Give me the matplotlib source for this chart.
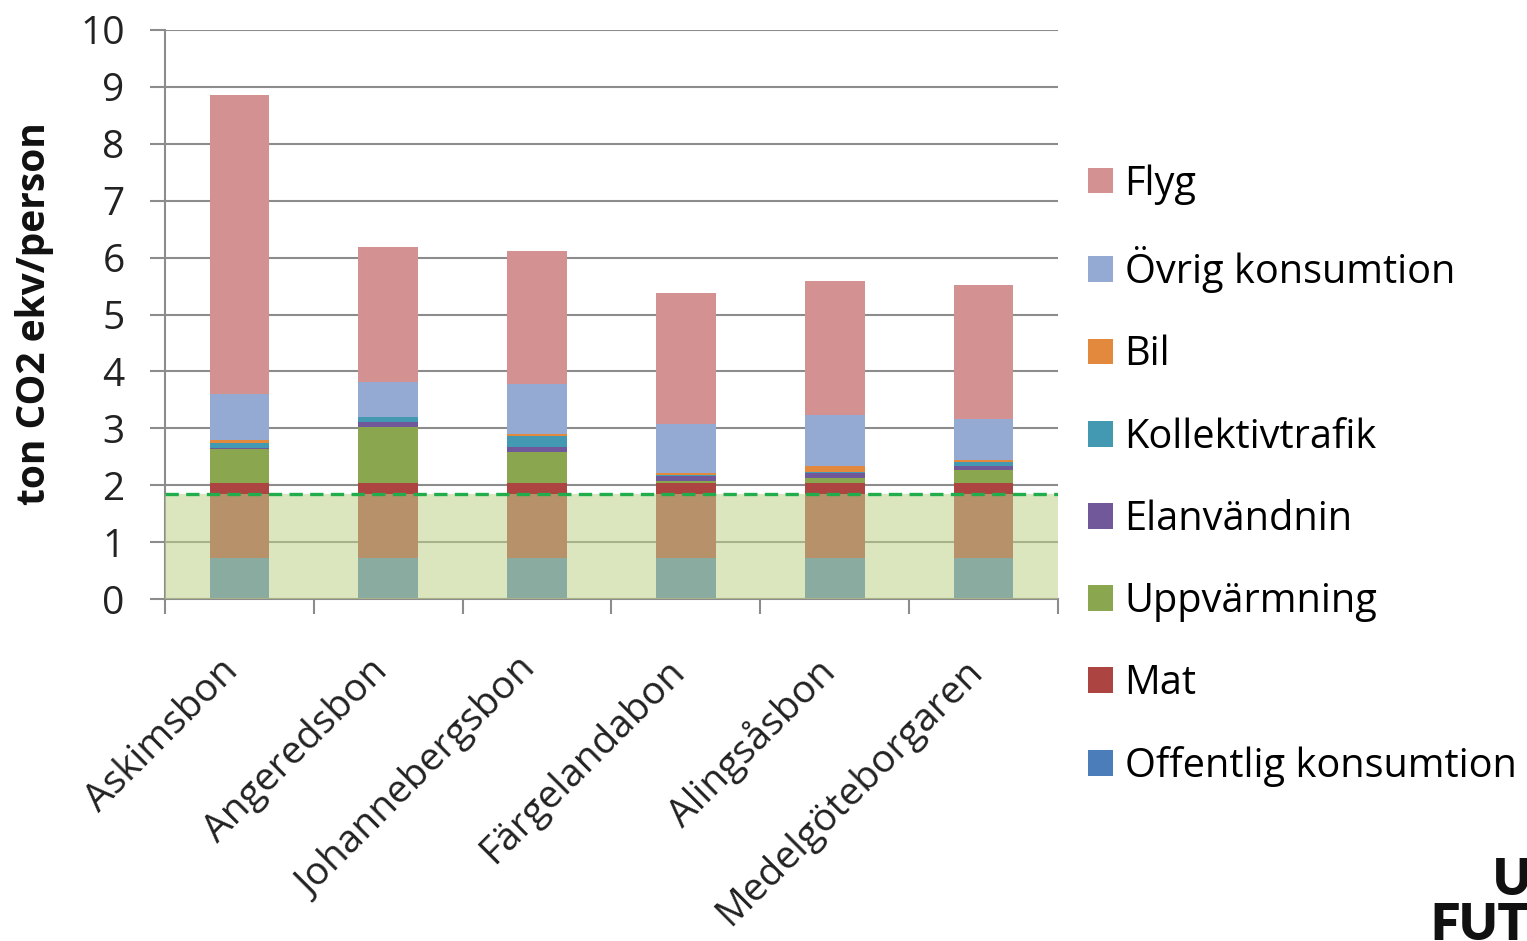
import matplotlib
matplotlib.use("Agg")
import matplotlib.pyplot as plt
import matplotlib.transforms as mtransforms
import numpy as np
from matplotlib.patches import Patch

categories = ['Askimsbon', 'Angeredsbon', 'Johannebergsbon', 'Färgelandabon',
              'Alingsåsbon', 'Medelgöteborgaren']
series_names = ['Offentlig konsumtion', 'Mat', 'Uppvärmning', 'Elanvändnin',
                'Kollektivtrafik', 'Bil', 'Övrig konsumtion', 'Flyg']
offentlig = [0.72, 0.72, 0.72, 0.72, 0.72, 0.72]
mat = [1.32, 1.32, 1.32, 1.32, 1.32, 1.32]
uppvarmning = [0.59, 0.98, 0.55, 0.04, 0.08, 0.23]
elanvandning = [0.03, 0.09, 0.08, 0.08, 0.09, 0.06]
kollektivtrafik = [0.08, 0.08, 0.19, 0.02, 0.03, 0.07]
bil = [0.05, 0.01, 0.04, 0.03, 0.10, 0.04]
ovrig = [0.81, 0.62, 0.87, 0.86, 0.90, 0.73]
flyg = [5.25, 2.36, 2.35, 2.31, 2.35, 2.35]
target_level = 1.84
yticks = list(range(0, 11))

colors = ['#4A7DBA', '#AC4442', '#8AA64F', '#71589A', '#4399B2', '#E2893E',
          '#94AAD3', '#D49192']

plt.rcParams['font.family'] = ['Open Sans', 'DejaVu Sans']

W, H = 1527, 941
fig = plt.figure(figsize=(W / 100, H / 100), dpi=100)
ax = fig.add_axes([165 / W, 1 - 599 / H, (1058 - 165) / W, (599 - 30) / H])

series = [offentlig, mat, uppvarmning, elanvandning, kollektivtrafik, bil, ovrig, flyg]
x = np.arange(len(categories))
bottom = np.zeros(len(categories))
for name, vals, c in zip(series_names, series, colors):
    ax.bar(x, vals, width=0.40, bottom=bottom, color=c, zorder=2,
           edgecolor='none', label=name)
    bottom += np.array(vals)

ax.axhspan(0, target_level, color=(191 / 255, 210 / 255, 139 / 255), alpha=0.55,
           zorder=3, lw=0)
ax.axhline(target_level, color='#22AD4C', ls=(0, (4, 2.2)), lw=2.4, zorder=4)

ax.set_xlim(-0.5, len(categories) - 0.5)
ax.set_ylim(0, 10)
ax.set_yticks(yticks)
ax.set_yticklabels([str(t) for t in yticks], fontsize=28, color='#222222')
ax.yaxis.grid(True, color='#8c8c8c', lw=1.5, zorder=0)
ax.set_axisbelow(True)

ax.set_xticks(x)
ax.set_xticklabels(categories, rotation=45, ha='right', rotation_mode='anchor',
                   fontsize=28, color='#222222')
ax.set_xticks(np.arange(-0.5, len(categories)), minor=True)
ax.tick_params(axis='x', which='major', length=0, pad=48)
ax.tick_params(axis='x', which='minor', length=11, width=1.5, color='#8c8c8c')
ax.tick_params(axis='y', which='major', length=11, width=1.5, color='#8c8c8c', pad=18)

offset = mtransforms.ScaledTranslation(-20 / 100, 14 / 100, fig.dpi_scale_trans)
for lab in ax.get_xticklabels():
    lab.set_transform(lab.get_transform() + offset)

for s in ['top', 'right']:
    ax.spines[s].set_visible(False)
for s in ['left', 'bottom']:
    ax.spines[s].set_color('#8c8c8c')
    ax.spines[s].set_linewidth(1.5)

fig.text(35 / W, 1 - 314 / H, 'ton CO2 ekv/person', rotation=90, ha='center',
         va='center', fontsize=28, fontweight='bold', color='#111111')

handles = [Patch(facecolor=c, edgecolor='none') for c in colors][::-1]
labels = series_names[::-1]
fig.legend(handles, labels, loc='center left',
           bbox_to_anchor=(1088 / W, 1 - 475.5 / H), frameon=False, fontsize=28.6,
           handlelength=0.62, handleheight=0.62, handletextpad=0.3,
           labelspacing=1.05, borderpad=0, borderaxespad=0)

fig.text(1493 / W, 1 - 895 / H, 'U', fontsize=37, fontweight='heavy',
         family=['Lato', 'DejaVu Sans'], ha='left', va='baseline', color='#111111')
fig.text(1430 / W, 1 - 940 / H, 'FUT', fontsize=37, fontweight='heavy',
         family=['Lato', 'DejaVu Sans'], ha='left', va='baseline', color='#111111')

fig.savefig('out.png', dpi=100)
